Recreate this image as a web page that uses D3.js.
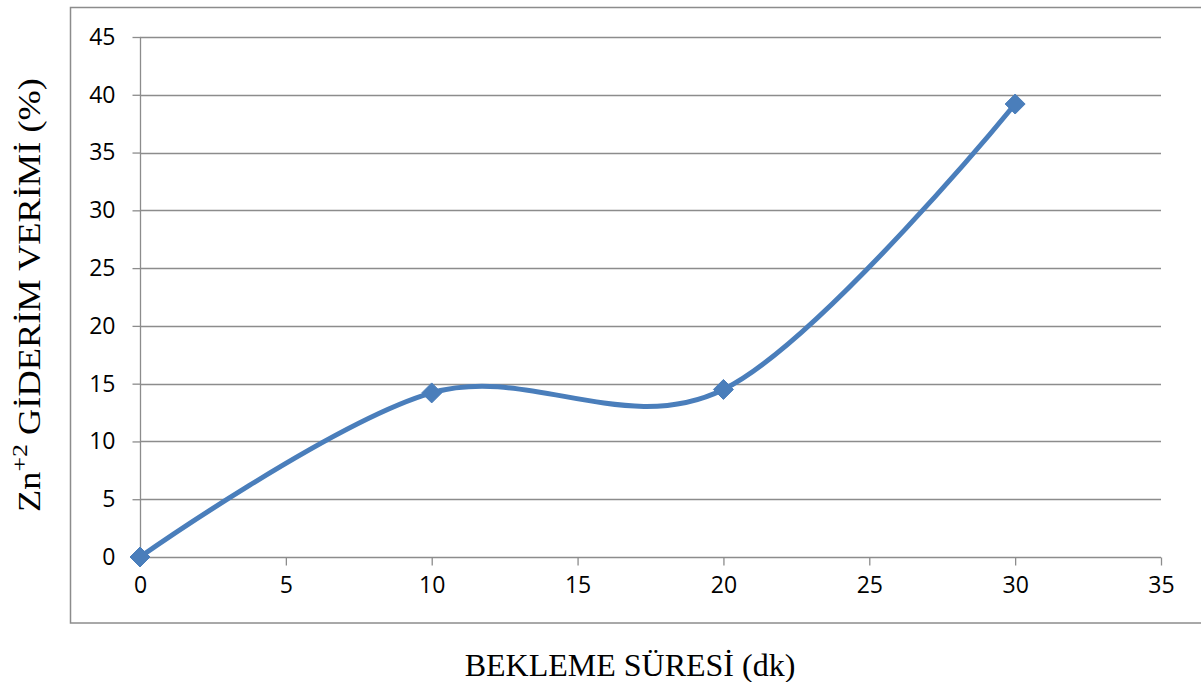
<!DOCTYPE html>
<html>
<head>
<meta charset="utf-8">
<script src="https://cdn.jsdelivr.net/npm/d3@7"></script>
<style>
  html, body { margin: 0; padding: 0; background: #fff; }
  svg { display: block; }
</style>
</head>
<body>
<svg id="chart" width="1201" height="682"></svg>
<script>
// Zn+2 removal efficiency versus waiting time
const times = [0, 10, 20, 30];
const efficiency = [0, 14.2, 14.5, 39.2];
const xTicks = [0, 5, 10, 15, 20, 25, 30, 35];
const yTicks = [0, 5, 10, 15, 20, 25, 30, 35, 40, 45];
const xTitle = "BEKLEME SÜRESİ (dk)";

const svg = d3.select("#chart");
const plot = { left: 140, right: 1161, top: 37, bottom: 557 };

const x = d3.scaleLinear().domain([0, 35]).range([plot.left, plot.right]);
const y = d3.scaleLinear().domain([0, 45]).range([plot.bottom, plot.top]);

// chart frame
svg.append("rect")
  .attr("x", 70.5).attr("y", 7.5)
  .attr("width", 1140).attr("height", 615.5)
  .attr("fill", "#fff").attr("stroke", "#8c8c8c").attr("stroke-width", 1.5);

// horizontal gridlines
svg.append("g")
  .selectAll("line")
  .data(yTicks.filter(d => d > 0))
  .join("line")
  .attr("x1", plot.left).attr("x2", plot.right)
  .attr("y1", d => Math.round(y(d)) + 0.5).attr("y2", d => Math.round(y(d)) + 0.5)
  .attr("stroke", "#8c8c8c").attr("stroke-width", 1.3);

const tickFont = "'Open Sans', Lato, sans-serif";

// y axis
const yAxis = svg.append("g")
  .attr("transform", `translate(${plot.left + 0.5},0)`)
  .call(d3.axisLeft(y).tickValues(yTicks).tickSize(8).tickPadding(17).tickFormat(d3.format("d")));
yAxis.select(".domain").attr("stroke", "#8c8c8c").attr("stroke-width", 1.3).attr("d", `M0,${plot.top}V${plot.bottom}`);
yAxis.selectAll(".tick line").attr("stroke", "#8c8c8c").attr("stroke-width", 1.3);
yAxis.selectAll(".tick text")
  .style("font-family", tickFont).style("font-size", "23px").attr("fill", "#000");

// x axis
const xAxis = svg.append("g")
  .attr("transform", `translate(0,${plot.bottom + 0.5})`)
  .call(d3.axisBottom(x).tickValues(xTicks).tickSize(8).tickPadding(11).tickFormat(d3.format("d")));
xAxis.select(".domain").attr("stroke", "#8c8c8c").attr("stroke-width", 1.3).attr("d", `M${plot.left},0H${plot.right}`);
xAxis.selectAll(".tick line").attr("stroke", "#8c8c8c").attr("stroke-width", 1.3);
xAxis.selectAll(".tick text")
  .style("font-family", tickFont).style("font-size", "23px").attr("fill", "#000");

// smoothed series line
const pts = times.map((t, i) => [t, efficiency[i]]);
svg.append("path")
  .datum(pts)
  .attr("fill", "none")
  .attr("stroke", "#4a7ebb")
  .attr("stroke-width", 5)
  .attr("stroke-linejoin", "round")
  .attr("d", d3.line().x(d => x(d[0])).y(d => y(d[1])).curve(d3.curveCatmullRom.alpha(0)));

// diamond markers
svg.append("g")
  .selectAll("path")
  .data(pts)
  .join("path")
  .attr("transform", d => `translate(${x(d[0])},${y(d[1])})`)
  .attr("d", "M0,-10L10,0L0,10L-10,0Z")
  .attr("fill", "#4a7ebb")
  .attr("stroke", "#4a7ebb")
  .attr("stroke-width", 1);

// axis titles
svg.append("text")
  .attr("x", 630).attr("y", 676)
  .attr("text-anchor", "middle")
  .attr("font-family", "'Liberation Serif', 'Times New Roman', serif")
  .attr("font-size", 32)
  .attr("fill", "#000")
  .text(xTitle);

// vertical title, stretched along its run to span the plot height
const yt = svg.append("text")
  .attr("text-anchor", "middle")
  .attr("font-family", "'Liberation Serif', 'Times New Roman', serif")
  .attr("font-size", 31)
  .attr("fill", "#000");
yt.append("tspan").text("Zn");
yt.append("tspan").attr("dy", -13).attr("font-size", 22).text("+2");
yt.append("tspan").attr("dy", 13).text(" GİDERİM VERİMİ (%)");
const ytLen = yt.node().getComputedTextLength();
const sx = 434 / ytLen;
yt.attr("transform", `translate(40,295) rotate(-90) scale(${sx},1)`);
</script>
</body>
</html>
